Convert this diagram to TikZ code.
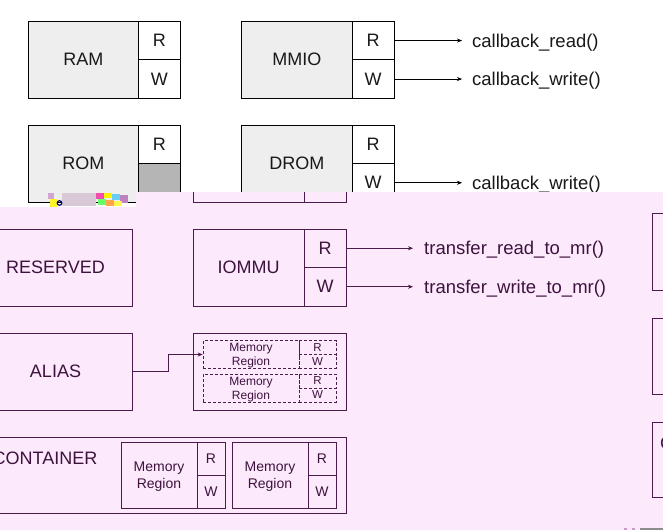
\documentclass[tikz,border=0pt]{standalone}
\usepackage{fontspec}
\setmainfont{Liberation Sans}
\usetikzlibrary{arrows.meta}
\definecolor{bodygray}{RGB}{238,238,238}
\definecolor{romgray}{RGB}{181,181,181}
\definecolor{pinkbg}{RGB}{252,233,252}
\definecolor{plum}{RGB}{75,27,75}
\definecolor{plumtext}{RGB}{61,19,61}
\definecolor{glitchgray}{RGB}{217,201,214}
\begin{document}
\begin{tikzpicture}[x=1pt,y=1pt,yscale=-1,
  rbody/.style={draw=black, fill=bodygray, text=black!90, line width=0.8pt, inner sep=0pt, minimum width=110pt, minimum height=77pt, font=\fontsize{18}{21}\selectfont},
  rcell/.style={draw=black, fill=white, text=black!90, line width=0.8pt, inner sep=0pt, minimum width=42pt, minimum height=38.5pt, font=\fontsize{18}{21}\selectfont},
  pbody/.style={draw=plum, text=plumtext, line width=0.8pt, inner sep=0pt, minimum width=111pt, minimum height=77pt, font=\fontsize{18}{21}\selectfont},
  pcell/.style={draw=plum, text=plumtext, line width=0.8pt, inner sep=0pt, minimum width=42pt, minimum height=38.5pt, font=\fontsize{18}{21}\selectfont},
  dbody/.style={draw=plum, text=plumtext, line width=0.6pt, dash pattern={on 3pt off 2pt}, inner sep=0pt, align=center, text depth=0pt, minimum width=96pt, font=\fontsize{12}{14}\selectfont},
  dcell/.style={draw=plum, text=plumtext, line width=0.6pt, dash pattern={on 3pt off 2pt}, inner sep=0pt, minimum width=37pt, font=\fontsize{11.5}{13}\selectfont},
  cbody/.style={draw=plum, text=plumtext, line width=0.8pt, inner sep=0pt, align=center, text depth=0pt, minimum width=76pt, minimum height=66pt, font=\fontsize{14}{17}\selectfont},
  ccell/.style={draw=plum, text=plumtext, line width=0.8pt, inner sep=0pt, minimum width=28pt, minimum height=33pt, font=\fontsize{14}{17}\selectfont},
  calltext/.style={anchor=west, inner xsep=10pt, inner ysep=0pt, text height=13.2pt, text depth=0pt, font=\fontsize{18.5}{21}\selectfont},
  callarrow/.style={line width=0.6pt, -{Stealth[length=5pt,width=4pt]}},
]
\useasboundingbox (0,0) rectangle (663,530);
\clip (0,0) rectangle (663,530);
\fill[white] (0,0) rectangle (663,530);

% top regions
\node[rbody] (ram) at (83.3,59.8) {RAM};
\node[rcell] (ramR) at (159.3,40.55) {R};
\node[rcell] (ramW) at (159.3,79.05) {W};
\node[rbody, minimum width=111pt] (mmio) at (296.8,59.8) {MMIO};
\node[rcell] (mmioR) at (373.2,40.55) {R};
\node[rcell] (mmioW) at (373.2,79.05) {W};
\node[calltext, text=black!90] (cbread) at (462,40.55) {callback\_read()};
\node[calltext, text=black!90] (cbwrite) at (462,79.05) {callback\_write()};
\draw[callarrow] (mmioR) -- (cbread);
\draw[callarrow] (mmioW) -- (cbwrite);

\node[rbody] (rom) at (83.3,163.5) {ROM};
\node[rcell] (romR) at (159.3,144.25) {R};
\node[rcell, fill=romgray] (romW) at (159.3,182.75) {};
\node[rbody, minimum width=111pt] (drom) at (296.8,163.5) {DROM};
\node[rcell] (dromR) at (373.2,144.25) {R};
\node[rcell] (dromW) at (373.2,182.75) {W};
\node[calltext, text=black!90] (cbdwrite) at (462,182.75) {callback\_write()};
\draw[callarrow] (dromW) -- (cbdwrite);

% pink layer
\fill[pinkbg] (0,207) -- (136,207) -- (136,192) -- (663,192) -- (663,530) -- (0,530) -- cycle;
% broken pixels
\fill[glitchgray] (62,193) rectangle (96,206);
\fill[violet!35] (48,193) rectangle (54,199);
\fill[yellow!85] (50,199) rectangle (57,207);
\draw[blue!40!black, line width=1.2pt] (59.5,203) circle (2.3);
\fill[magenta!70] (96,193) rectangle (104,199);
\fill[yellow] (104,193) rectangle (112,198);
\fill[cyan!60] (112,194) rectangle (120,200);
\fill[green!60] (98,199) rectangle (106,205);
\fill[orange!70] (106,200) rectangle (114,206);
\fill[violet!50] (120,195) rectangle (128,203);
\fill[yellow!70] (114,201) rectangle (122,206);

\begin{scope}
\clip (0,192) rectangle (663,530);
\node[pbody] (oldbody) at (248.5,163.5) {};
\node[pcell] (oldR) at (325,144.25) {};
\node[pcell] (oldW) at (325,182.75) {};

\node[pbody, minimum width=153pt] (reserved) at (55.5,267.5) {RESERVED};
\node[pbody] (iommu) at (248.5,267.5) {IOMMU};
\node[pcell] (iommuR) at (325,248.25) {R};
\node[pcell] (iommuW) at (325,286.75) {W};
\node[calltext, text=plumtext, inner xsep=11pt] (trread) at (413,248.25) {transfer\_read\_to\_mr()};
\node[calltext, text=plumtext, inner xsep=11pt] (trwrite) at (413,286.75) {transfer\_write\_to\_mr()};
\draw[callarrow, draw=plum] (iommuR) -- (trread);
\draw[callarrow, draw=plum] (iommuW) -- (trwrite);

\node[pbody, minimum width=153pt] (alias) at (55.5,371.5) {ALIAS};
\node[pbody, minimum width=153pt] (aliased) at (269.5,371.5) {};
\node[dbody, minimum height=27.5pt] (mr1) at (251,354.5) {Memory\\Region};
\node[dcell, minimum height=13.75pt] (mr1R) at (317.5,347.6) {R};
\node[dcell, minimum height=13.75pt] (mr1W) at (317.5,361.4) {W};
\node[dbody, minimum height=28pt] (mr2) at (251,388) {Memory\\Region};
\node[dcell, minimum height=14pt] (mr2R) at (317.5,381) {R};
\node[dcell, minimum height=14pt] (mr2W) at (317.5,395) {W};
\draw[callarrow, draw=plum] (alias.east) -- ++(36,0) |- (mr1.west);

\node[pbody, minimum width=367pt, minimum height=76pt] (container) at (162.5,475) {};
\node[text=plumtext, inner sep=0pt, font=\fontsize{18}{21}\selectfont] (containerlabel) at (45,458) {CONTAINER};
\node[cbody] (creg1) at (159,475) {Memory\\Region};
\node[ccell] (creg1R) at (211,458.5) {R};
\node[ccell] (creg1W) at (211,491.5) {W};
\node[cbody] (creg2) at (270,475) {Memory\\Region};
\node[ccell] (creg2R) at (322,458.5) {R};
\node[ccell] (creg2W) at (322,491.5) {W};

% right edge
\node[pbody, minimum width=60pt] (edge1) at (682,251.5) {};
\node[pbody, minimum width=60pt, minimum height=76pt] (edge2) at (682,356) {};
\node[pbody, minimum width=60pt, minimum height=75pt] (edge3) at (682,459.5) {};
\node[text=plumtext, anchor=west, inner sep=0pt, font=\fontsize{18}{21}\selectfont] (edge3label) at (660,443) {C};
\end{scope}
\fill[black!45] (640,527.5) rectangle (663,530);
\fill[violet!40] (624,528) rectangle (627,530);
\fill[violet!40] (632,528) rectangle (635,530);
\end{tikzpicture}
\end{document}
